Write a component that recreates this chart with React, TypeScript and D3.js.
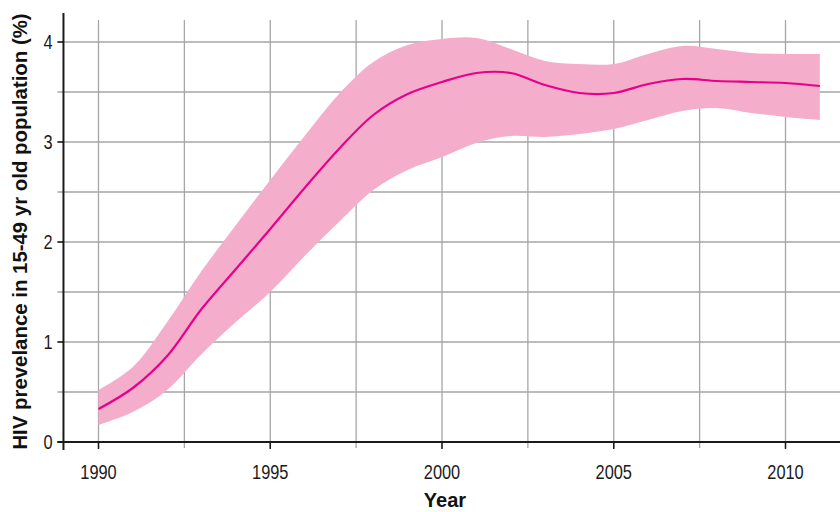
import React from "react";
import * as d3 from "d3";

const years = [1990, 1991, 1992, 1993, 1994, 1995, 1996, 1997, 1998, 1999, 2000, 2001, 2002, 2003, 2004, 2005, 2006, 2007, 2008, 2009, 2010, 2011];
const prevalence = [0.33, 0.54, 0.86, 1.33, 1.73, 2.13, 2.54, 2.93, 3.27, 3.48, 3.6, 3.69, 3.69, 3.57, 3.49, 3.49, 3.58, 3.63, 3.61, 3.6, 3.59, 3.56];
const lowerBound = [0.17, 0.3, 0.52, 0.88, 1.2, 1.5, 1.86, 2.2, 2.52, 2.72, 2.85, 2.99, 3.06, 3.05, 3.08, 3.13, 3.22, 3.31, 3.34, 3.29, 3.25, 3.22];
const upperBound = [0.52, 0.75, 1.2, 1.71, 2.17, 2.62, 3.06, 3.48, 3.8, 3.97, 4.03, 4.04, 3.93, 3.81, 3.78, 3.78, 3.88, 3.96, 3.93, 3.89, 3.88, 3.88];
const xTickLabels = [1990, 1995, 2000, 2005, 2010];
const xGridValues = [1990, 1992.5, 1995, 1997.5, 2000, 2002.5, 2005, 2007.5, 2010];
const yTickLabels = [0, 1, 2, 3, 4];
const yGridValues = [0, 0.5, 1, 1.5, 2, 2.5, 3, 3.5, 4];
const xTitle = "Year";
const yTitle = "HIV prevelance in 15-49 yr old population (%)";

const W = 840;
const H = 512;
const FONT = "'Liberation Sans', Arial, sans-serif";

export default function App() {
  const x = d3.scaleLinear().domain([1990, 2010]).range([98.5, 785.5]);
  const y = d3.scaleLinear().domain([0, 4]).range([442, 42]);
  const axisX = x(1988.98);
  const gridTop = y(4.22);
  const axisTop = y(4.29);
  const baseY = y(0);

  const rows = years.map((yr, i) => ({ yr, m: prevalence[i], lo: lowerBound[i], hi: upperBound[i] }));
  const curve = d3.curveCatmullRom.alpha(0.5);
  const area = d3
    .area<any>()
    .x((d) => x(d.yr))
    .y0((d) => y(d.lo))
    .y1((d) => y(d.hi))
    .curve(curve);
  const line = d3
    .line<any>()
    .x((d) => x(d.yr))
    .y((d) => y(d.m))
    .curve(curve);

  return (
    <svg width={W} height={H} style={{ position: "absolute", left: 0, top: 0, display: "block", background: "#fff" }}>
      {/* grid */}
      {yGridValues.map((v) => (
        <line key={"hg" + v} x1={axisX - 6} x2={W} y1={y(v)} y2={y(v)} stroke="#a6a6a6" strokeWidth={1.3} />
      ))}
      {xGridValues.map((v) => (
        <line key={"vg" + v} x1={x(v)} x2={x(v)} y1={gridTop} y2={baseY + 6} stroke="#a6a6a6" strokeWidth={1.3} />
      ))}
      {/* band & line */}
      <path d={area(rows) || ""} fill="#f5adcc" />
      <path d={line(rows) || ""} fill="none" stroke="#e8008a" strokeWidth={2.2} />
      {/* axes */}
      <line x1={axisX} x2={axisX} y1={axisTop} y2={baseY + 8} stroke="#1a1a1a" strokeWidth={2} />
      <line x1={axisX - 6} x2={W} y1={baseY} y2={baseY} stroke="#1a1a1a" strokeWidth={2} />
      {xTickLabels.map((v) => (
        <line key={"xt" + v} x1={x(v)} x2={x(v)} y1={baseY} y2={baseY + 7} stroke="#1a1a1a" strokeWidth={1.5} />
      ))}
      {yTickLabels.map((v) => (
        <line key={"yt" + v} x1={axisX - 6} x2={axisX} y1={y(v)} y2={y(v)} stroke="#1a1a1a" strokeWidth={1.5} />
      ))}
      {/* tick labels (narrowed) */}
      {xTickLabels.map((v) => (
        <text
          key={"xl" + v}
          transform={`translate(${x(v)}, 479) scale(0.82, 1)`}
          textAnchor="middle"
          fontFamily={FONT}
          fontSize={20}
          fill="#1a1a1a"
        >
          {v}
        </text>
      ))}
      {yTickLabels.map((v) => (
        <text
          key={"yl" + v}
          transform={`translate(52.5, ${y(v)}) scale(0.82, 1)`}
          dy="0.36em"
          textAnchor="end"
          fontFamily={FONT}
          fontSize={20}
          fill="#1a1a1a"
        >
          {v}
        </text>
      ))}
      {/* titles */}
      <text x={445} y={507} textAnchor="middle" fontFamily={FONT} fontWeight="bold" fontSize={20} fill="#111">
        {xTitle}
      </text>
      <text
        transform={`translate(27, 231.5) rotate(-90)`}
        textAnchor="middle"
        fontFamily={FONT}
        fontWeight="bold"
        fontSize={20.4}
        fill="#111"
      >
        {yTitle}
      </text>
    </svg>
  );
}
